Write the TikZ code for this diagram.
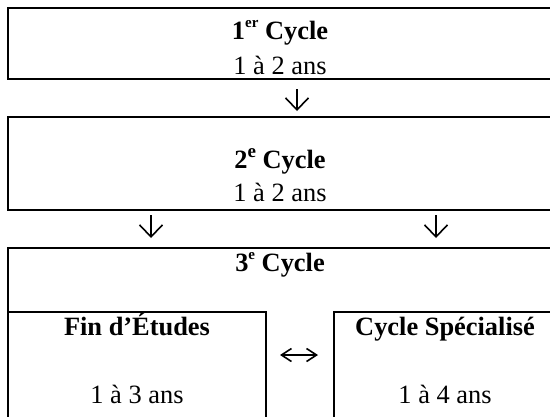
\documentclass[tikz,border=0pt]{standalone}
\usepackage{fontspec}
\setmainfont{Liberation Serif}
\usetikzlibrary{arrows.meta}
\begin{document}
\begin{tikzpicture}[x=1bp,y=-1bp,
  box/.style={draw, line width=1.8bp, inner sep=0},
  ibox/.style={draw, line width=1.5bp, inner sep=0},
  lbl/.style={anchor=base, inner sep=0, font=\fontsize{26.4bp}{30bp}\selectfont},
  hd/.style={anchor=base, inner sep=0, font=\fontsize{26.4bp}{30bp}\selectfont\bfseries},
  dn/.style={line width=1.6bp, -{Straight Barb[length=12bp,width=23bp]}},
  lr/.style={line width=1.6bp, {Straight Barb[length=10bp,width=13bp]}-{Straight Barb[length=10bp,width=13bp]}}]
\useasboundingbox (0,0) rectangle (550,416);
\clip (0,0) rectangle (550,416);
\newcommand{\supsm}[1]{\raisebox{0.42em}{\fontsize{15bp}{15bp}\selectfont #1}}
\newcommand{\supbig}[1]{\raisebox{0.40em}{\fontsize{19bp}{19bp}\selectfont #1}}
% boxes
\node[box, minimum width=552bp, minimum height=71bp] (b1) at (284,43.5) {};
\node[box, minimum width=552bp, minimum height=93bp] (b2) at (284,163.5) {};
\node[box, minimum width=552bp, minimum height=182bp] (b3) at (284,339) {};
\node[ibox, minimum width=258bp, minimum height=118bp] (fin) at (137,371) {};
\node[ibox, minimum width=226bp, minimum height=118bp] (spec) at (447,371) {};
% texts
\node[hd] (t1a) at (280,39) {1\supsm{er} Cycle};
\node[lbl] (t1b) at (280,74) {1 à 2 ans};
\node[hd] (t2a) at (280,168) {2\supbig{e} Cycle};
\node[lbl] (t2b) at (280,201) {1 à 2 ans};
\node[hd] (t3) at (280,271) {3\supsm{e} Cycle};
\node[hd] (tfin) at (137,335) {Fin d’Études};
\node[hd] (tspec) at (445,335) {Cycle Spécialisé};
\node[lbl] (dfin) at (137,403) {1 à 3 ans};
\node[lbl] (dspec) at (445,403) {1 à 4 ans};
% arrows
\coordinate (a1s) at (297,89);
\coordinate (a1e) at (297,111);
\coordinate (a2s) at (151,215);
\coordinate (a2e) at (151,238);
\coordinate (a3s) at (436,215);
\coordinate (a3e) at (436,238);
\coordinate (lrs) at (280,355);
\coordinate (lre) at (318,355);
\draw[dn] (a1s) -- (a1e);
\draw[dn] (a2s) -- (a2e);
\draw[dn] (a3s) -- (a3e);
\draw[lr] (lrs) -- (lre);
\end{tikzpicture}
\end{document}
